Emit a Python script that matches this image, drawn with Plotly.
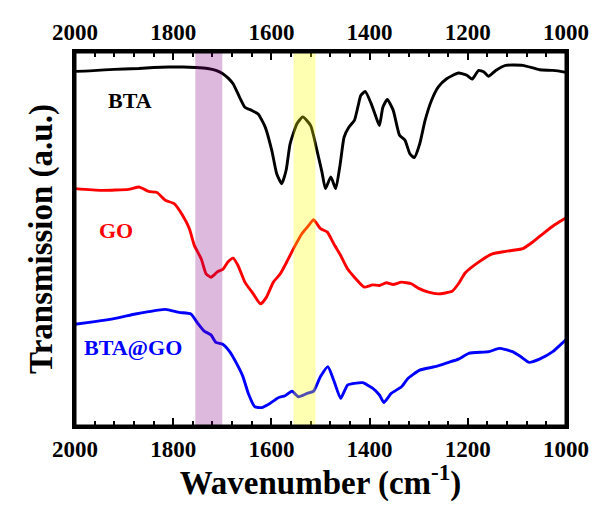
import plotly.graph_objects as go

# Wavenumber (cm-1) and transmission (a.u., offset)
bta_wn = [2000, 1970, 1940, 1900, 1870, 1840, 1809, 1780, 1754, 1730, 1713, 1699, 1688, 1678, 1665,
          1654, 1641, 1627, 1613, 1599, 1589, 1579, 1570, 1562, 1548, 1536, 1520, 1507, 1497, 1490,
          1479, 1469, 1460, 1452, 1442, 1431, 1424, 1418, 1409, 1397, 1387, 1380, 1373, 1364, 1352,
          1339, 1328, 1318, 1309, 1298, 1287, 1274, 1260, 1243, 1219, 1202, 1191, 1178, 1167, 1158,
          1143, 1123, 1088, 1054, 1027, 1003, 1000]
bta_t = [366, 366.5, 367.5, 368.5, 369, 370, 370.5, 370.5, 370, 369, 367, 363.6, 359, 353.2, 339.5,
         329, 326, 322, 309, 284, 260, 250, 264, 291, 312, 319, 310, 284, 262, 245,
         257, 245, 270, 298, 308.5, 315.4, 329, 341, 345.3, 333, 319, 310, 329, 337, 326,
         300, 295, 281, 277, 291, 315.4, 336, 350, 358.4, 364.3, 362, 358, 367, 365.3, 361,
         367, 372.2, 372.2, 367.7, 367, 365.3, 365]

go_wn = [2000, 1946, 1891, 1869, 1850, 1833, 1816, 1798, 1781, 1767, 1757, 1743, 1733, 1723, 1709,
         1699, 1689, 1678, 1668, 1654, 1637, 1622, 1610, 1596, 1582, 1569, 1555, 1538, 1524, 1514,
         1500, 1486, 1473, 1459, 1445, 1431, 1411, 1394, 1380, 1366, 1352, 1335, 1315, 1301, 1280,
         1260, 1232, 1219, 1205, 1178, 1150, 1123, 1088, 1068, 1047, 1023, 1003, 1000]
go_t = [245, 243.2, 244.2, 246.6, 242.1, 241, 233, 229.4, 217.4, 203.6, 186.4, 172.6, 157, 153.6, 159.5,
        161.6, 169.1, 173.3, 165.7, 148.5, 136.4, 126, 133, 148.5, 157, 169, 183, 198.4, 207, 213,
        203.6, 200.1, 188, 176, 162.3, 153.6, 143.3, 145.7, 145, 147.8, 146, 148.5, 146.8, 142.3, 138.1,
        136.4, 139, 146.8, 158.1, 169.1, 177.7, 180.2, 183, 189.8, 198.4, 207.7, 214, 215]

btago_wn = [2000, 1960, 1918, 1877, 1850, 1816, 1788, 1764, 1750, 1737, 1723, 1713, 1699, 1685, 1671,
            1658, 1647, 1634, 1620, 1603, 1586, 1572, 1558, 1545, 1527, 1514, 1500, 1485, 1472, 1459,
            1445, 1431, 1414, 1394, 1380, 1371, 1356, 1335, 1322, 1298, 1267, 1239, 1219, 1198, 1157,
            1136, 1109, 1092, 1075, 1054, 1027, 1003, 1000]
btago_t = [105, 107.7, 111.1, 115.6, 118, 120.4, 117.3, 115.6, 106, 98, 94, 86.3, 84.3, 76.7, 64.6,
           51, 33.6, 20, 19, 23.3, 29.2, 31.2, 36, 30.2, 33.6, 36, 51, 61.2, 45.7, 28.5,
           42.3, 44, 44.7, 39, 32, 24.3, 33.6, 40.5, 49, 57.7, 61.2, 65.7, 69, 75, 76.7,
           80.1, 76.7, 71.5, 65.7, 69, 76.7, 87.7, 89]

series_names = ["BTA", "GO", "BTA@GO"]
series_colors = ["black", "red", "blue"]
series_xaxes = ["x2", "x", "x"]   # top and bottom axes share the same range
label_wn = [1889, 1917, 1881]
label_t = [336, 202, 81]

band_starts = [1755, 1555]
band_ends = [1700, 1510]
band_colors = ["rgba(128,0,128,0.27)", "rgba(255,255,0,0.30)"]

x_ticks = [2000, 1800, 1600, 1400, 1200, 1000]

FONT = "Liberation Serif"

fig = go.Figure()
for wn, t, name, col, xa in zip([bta_wn, go_wn, btago_wn], [bta_t, go_t, btago_t],
                                series_names, series_colors, series_xaxes):
    fig.add_trace(go.Scatter(x=wn, y=t, mode="lines", name=name, xaxis=xa, yaxis="y",
                             line=dict(color=col, width=2.9, shape="spline", smoothing=0.5),
                             showlegend=False))

for x0, x1, c in zip(band_starts, band_ends, band_colors):
    fig.add_shape(type="rect", xref="x", yref="paper", x0=x0, x1=x1, y0=0, y1=1,
                  fillcolor=c, line=dict(width=0), layer="above")

# plot frame
fig.add_shape(type="rect", xref="paper", yref="paper", x0=0, x1=1, y0=0, y1=1,
              line=dict(color="black", width=3), fillcolor="rgba(0,0,0,0)", layer="above")

for name, col, xw, yt in zip(series_names, series_colors, label_wn, label_t):
    fig.add_annotation(x=xw, y=yt, xref="x", yref="y", text="<b>%s</b>" % name, showarrow=False,
                       font=dict(family=FONT, size=22, color=col))

axis_common = dict(range=[2000, 1000], tickvals=x_ticks, ticks="inside", ticklen=8, tickwidth=2,
                   tickcolor="black", showline=True, linewidth=3, linecolor="black",
                   showgrid=False, zeroline=False,
                   tickfont=dict(family=FONT, size=23, color="black", weight="bold"),
                   minor=dict(dtick=40, ticks="inside", ticklen=5, tickwidth=2, tickcolor="black"))

fig.update_layout(
    width=593, height=494,
    margin=dict(l=67, r=24, t=35, b=73),
    paper_bgcolor="white", plot_bgcolor="white",
    xaxis=dict(**axis_common,
               title=dict(text="<b>Wavenumber (cm<sup>-1</sup>)</b>",
                          font=dict(family=FONT, size=33, color="black"), standoff=5)),
    xaxis2=dict(**axis_common, overlaying="x", side="top", anchor="y"),
    yaxis=dict(range=[0, 386], showticklabels=False, ticks="", showline=True, mirror=True,
               linewidth=3, linecolor="black", showgrid=False, zeroline=False,
               title=dict(text="<b>Transmission (a.u.)</b>",
                          font=dict(family=FONT, size=33, color="black"), standoff=10)),
)

fig.write_html("out.html")
